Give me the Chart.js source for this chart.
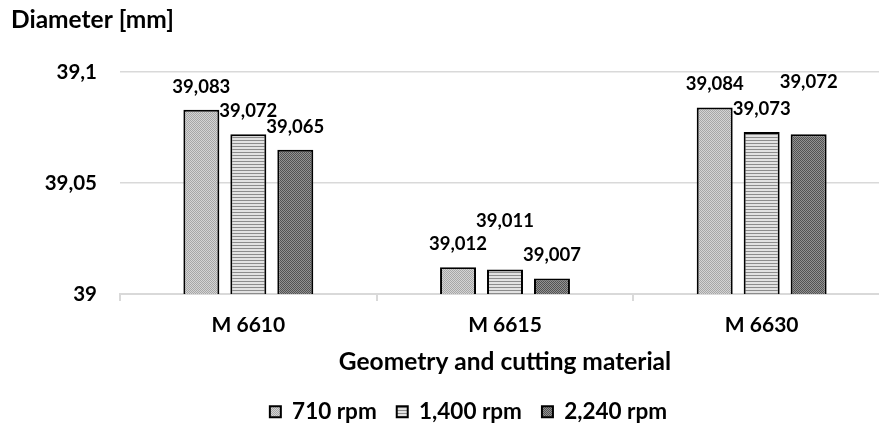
<!DOCTYPE html>
<html>
<head>
<meta charset="utf-8">
<script src="https://cdn.jsdelivr.net/npm/chart.js@4.4.1/dist/chart.umd.min.js"></script>
<style>
    html, body { margin: 0; padding: 0; background: #fff; overflow: hidden; }
    body { width: 879px; height: 427px; }
    #wrap { width: 890px; height: 427px; }
</style>
</head>
<body>
<div id="wrap"><canvas id="diameterChart"></canvas></div>
<script>
// Values
const categories = ['M 6610', 'M 6615', 'M 6630'];
const seriesNames = ['710 rpm', '1,400 rpm', '2,240 rpm'];
const rpm710 = [39.083, 39.012, 39.084];
const rpm1400 = [39.072, 39.011, 39.073];
const rpm2240 = [39.065, 39.007, 39.072];
const yTicks = [39, 39.05, 39.1];

// Extra lift for labels that were moved to avoid overlap
const labelLift = [[0, 0, 0], [0, 26, 0], [0, 0, 29]];

const FONT = 'Lato';

function makePattern(size, draw) {
    const c = document.createElement('canvas');
    c.width = size;
    c.height = size;
    draw(c.getContext('2d'));
    return c.getContext('2d').createPattern(c, 'repeat');
}

function checker(light, dark) {
    return makePattern(2, g => {
        g.fillStyle = light;
        g.fillRect(0, 0, 2, 2);
        g.fillStyle = dark;
        g.fillRect(0, 0, 1, 1);
        g.fillRect(1, 1, 1, 1);
    });
}

const fill710 = checker('#d4d4d4', '#a6a6a6');
const fill1400 = makePattern(3, g => {
    g.fillStyle = '#e2e2e2';
    g.fillRect(0, 0, 3, 3);
    g.fillStyle = '#8c8c8c';
    g.fillRect(0, 2, 3, 1);
});
const fill2240 = checker('#929292', '#525252');

const fmt = (v, digits) => String(+v.toFixed(digits)).replace('.', ',');

const valueLabels = {
    id: 'valueLabels',
    afterDatasetsDraw(chart) {
        const ctx = chart.ctx;
        ctx.save();
        ctx.font = 'bold 18.5px ' + FONT;
        ctx.fillStyle = '#000';
        ctx.textAlign = 'center';
        ctx.textBaseline = 'middle';
        chart.data.datasets.forEach((ds, d) => {
            chart.getDatasetMeta(d).data.forEach((bar, i) => {
                ctx.fillText(ds.data[i].toFixed(3).replace('.', ','), bar.x, bar.y - 23 - labelLift[d][i]);
            });
        });
        ctx.restore();
    }
};

// nudge the legend to where it sits in the original
const legendNudge = {
    id: 'legendNudge',
    afterLayout(chart) {
        const lg = chart.legend;
        lg.left += 18;
        lg.right += 18;
        lg.top += 6;
        lg.bottom += 6;
    }
};

const ctx = document.getElementById('diameterChart').getContext('2d');
const diameterChart = new Chart(ctx, {
    type: 'bar',
    data: {
        labels: categories,
        datasets: [
            { label: seriesNames[0], data: rpm710, backgroundColor: fill710 },
            { label: seriesNames[1], data: rpm1400, backgroundColor: fill1400 },
            { label: seriesNames[2], data: rpm2240, backgroundColor: fill2240 }
        ].map(ds => Object.assign(ds, {
            borderColor: '#000',
            borderWidth: 2,
            categoryPercentage: 0.549,
            barPercentage: 0.766
        }))
    },
    options: {
        responsive: true,
        maintainAspectRatio: false,
        animation: false,
        layout: { padding: { left: 11, right: 0, top: 0, bottom: 0 } },
        plugins: {
            title: {
                display: true,
                text: 'Diameter [mm]',
                align: 'start',
                color: '#000',
                font: { family: FONT, size: 24.5, weight: 'bold', lineHeight: 1.2 },
                padding: { top: 5.5, bottom: 37.1 }
            },
            legend: {
                position: 'bottom',
                labels: {
                    color: '#000',
                    font: { family: FONT, size: 22.5, weight: 'bold' },
                    boxWidth: 11,
                    boxHeight: 11,
                    padding: 20
                }
            },
            tooltip: { enabled: false }
        },
        scales: {
            x: {
                grid: {
                    offset: true,
                    drawOnChartArea: false,
                    tickLength: 7,
                    color: '#d9d9d9',
                    lineWidth: 2
                },
                border: { color: '#d9d9d9', width: 2 },
                ticks: {
                    color: '#000',
                    padding: 12,
                    font: { family: FONT, size: 21, weight: 'bold', lineHeight: 1.2 }
                },
                title: {
                    display: true,
                    text: 'Geometry and cutting material',
                    color: '#000',
                    font: { family: FONT, size: 24.5, weight: 'bold', lineHeight: 1 },
                    padding: { top: 0, bottom: 0 }
                },
                afterFit(scale) { scale.height = 80.5; }
            },
            y: {
                min: yTicks[0],
                max: yTicks[yTicks.length - 1],
                afterBuildTicks(scale) { scale.ticks = yTicks.map(v => ({ value: v })); },
                grid: { drawTicks: false, color: '#d9d9d9', lineWidth: 1.5 },
                border: { display: false },
                ticks: {
                    color: '#000',
                    padding: 23,
                    font: { family: FONT, size: 20.5, weight: 'bold' },
                    callback: v => fmt(v, 2)
                },
                afterFit(scale) { scale.width = 109; }
            }
        }
    },
    plugins: [valueLabels, legendNudge]
});
</script>
</body>
</html>
